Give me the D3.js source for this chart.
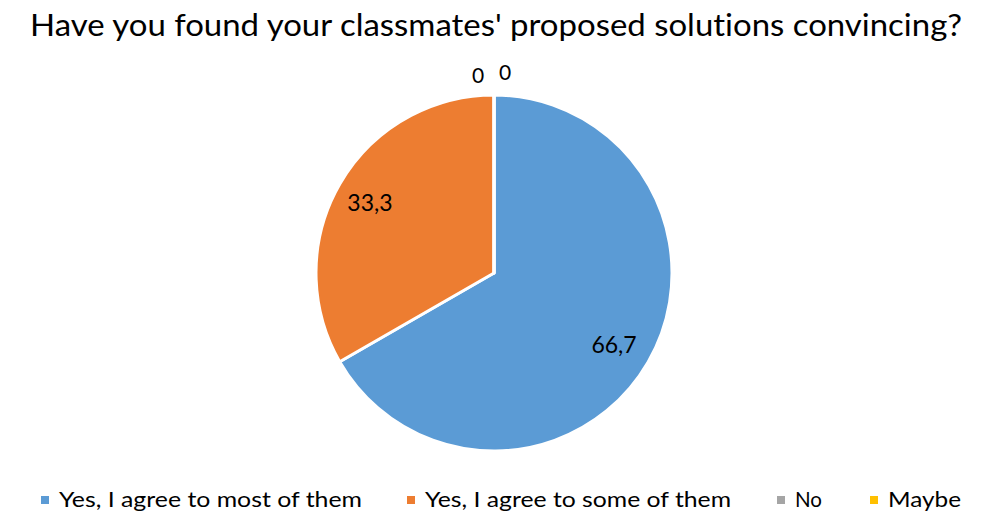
<!DOCTYPE html>
<html><head><meta charset="utf-8">
<script src="https://cdn.jsdelivr.net/npm/d3@7"></script>
<style>body{margin:0;background:#fff}svg{display:block}text{font-family:"Lato",sans-serif;fill:#000;font-variant-ligatures:none;font-feature-settings:"liga" 0}</style>
</head><body>
<svg id="c" width="993" height="516"></svg>
<script>
const title = "Have you found your classmates' proposed solutions convincing?";
const categories = ["Yes, I agree to most of them","Yes, I agree to some of them","No","Maybe"];
const values = [66.7, 33.3, 0, 0];
const valueLabels = ["66,7","33,3","0","0"];
const colors = ["#5B9BD5","#ED7D31","#A5A5A5","#FFC000"];

const svg = d3.select("#c");
const cx = 494, cy = 273, R = 178;

svg.append("text").attr("x", 30).attr("y", 36).attr("font-size", 31)
  .attr("textLength", 932).attr("lengthAdjust","spacingAndGlyphs").text(title);

const pie = d3.pie().sort(null).value(d => d)(values);
const arc = d3.arc().innerRadius(0).outerRadius(R);
const g = svg.append("g").attr("transform", `translate(${cx},${cy})`);
g.selectAll("path").data(pie).join("path")
  .attr("d", arc).attr("fill", (d,i) => colors[i])
  .attr("stroke", "#fff").attr("stroke-width", 3).attr("stroke-linejoin","round");

const labelArc = d3.arc().innerRadius(141).outerRadius(141);
const zeroPos = {2: [-16, -R - 12], 3: [11, -R - 15]};
g.selectAll("text.lbl").data(pie).join("text").attr("class","lbl")
  .attr("text-anchor","middle")
  .each(function(d,i){
    const t = d3.select(this);
    if (d.value === 0) {
      t.attr("font-size", 21).attr("x", zeroPos[i][0]).attr("y", zeroPos[i][1]);
    } else {
      const [x, y] = labelArc.centroid(d);
      t.attr("font-size", 23).attr("x", x - 2).attr("y", y + 9);
    }
    t.text(valueLabels[i]);
  });

const legendX = [41, 407, 777, 870];
const legendW = [303, 306, 27, 73];
const lg = svg.append("g");
categories.forEach((c,i) => {
  lg.append("rect").attr("x", legendX[i]).attr("y", 496).attr("width", 8).attr("height", 8).attr("fill", colors[i]);
  lg.append("text").attr("x", legendX[i] + 18).attr("y", 507).attr("font-size", 21.5)
    .attr("textLength", legendW[i]).attr("lengthAdjust","spacingAndGlyphs").text(c);
});
</script>
</body></html>
